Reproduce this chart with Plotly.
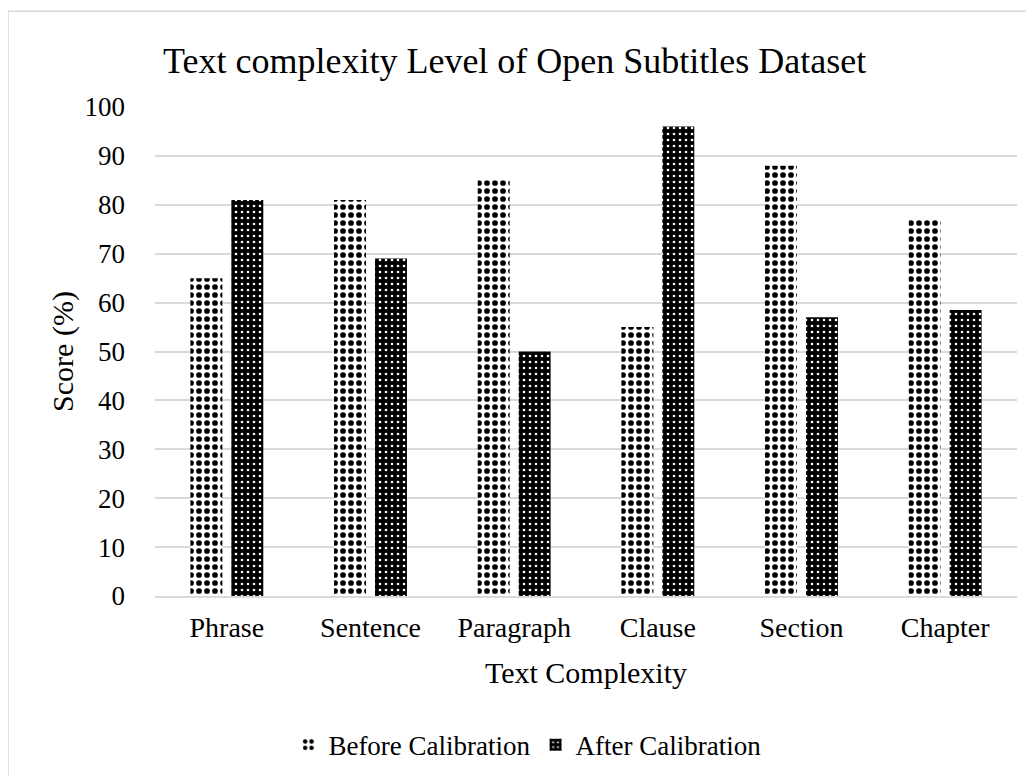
import plotly.graph_objects as go

categories = ["Phrase", "Sentence", "Paragraph", "Clause", "Section", "Chapter"]
before_calibration = [65, 81, 85, 55, 88, 77]
after_calibration = [81, 69, 50, 96, 57, 58.5]
y_ticks = list(range(0, 101, 10))

FONT = "Liberation Serif, Times New Roman, serif"

fig = go.Figure()
fig.add_trace(go.Bar(
    name="Before Calibration", x=categories, y=before_calibration,
    marker=dict(color="white", line=dict(width=0),
                pattern=dict(shape=".", fgcolor="black", bgcolor="white",
                             size=8, solidity=0.4, fillmode="replace")),
))
fig.add_trace(go.Bar(
    name="After Calibration", x=categories, y=after_calibration,
    marker=dict(color="black", line=dict(width=0),
                pattern=dict(shape=".", fgcolor="white", bgcolor="black",
                             size=6, solidity=0.15, fillmode="replace")),
))

fig.update_layout(
    width=1034, height=776,
    margin=dict(l=147, r=25, t=99, b=188),
    paper_bgcolor="white", plot_bgcolor="white",
    font=dict(family=FONT, color="black", size=28),
    barmode="group", bargap=0.43, bargroupgap=0.22,
    title=dict(text="Text complexity Level of Open Subtitles Dataset",
               x=0.49, xref="container", xanchor="center",
               y=1 - 52 / 776, yref="container", yanchor="middle",
               font=dict(size=36, family=FONT)),
    showlegend=True,
    legend=dict(orientation="h", x=0.432, xanchor="center", y=-0.305,
                yanchor="middle", font=dict(size=27, family=FONT),
                itemwidth=30, tracegroupgap=0),
    shapes=[dict(type="rect", xref="paper", yref="paper",
                 x0=-0.1705, x1=1.05, y0=-0.45, y1=1.196,
                 line=dict(color="#d9d9d9", width=1.5), layer="below")],
)
fig.update_xaxes(
    title=dict(text="Text Complexity", font=dict(size=30, family=FONT), standoff=20),
    showgrid=False, showline=True, linecolor="#d9d9d9", linewidth=1.5,
    tickfont=dict(size=28, family=FONT), ticks="", ticklabelstandoff=6,
)
fig.update_yaxes(
    title=dict(text="Score (%)", font=dict(size=30, family=FONT), standoff=2),
    range=[0, 100], tickvals=y_ticks, showgrid=True, gridcolor="#d9d9d9",
    gridwidth=1.5, zeroline=False, showline=False, ticks="",
    tickfont=dict(size=27, family=FONT), ticklabelstandoff=29,
)
fig.write_html("out.html")
